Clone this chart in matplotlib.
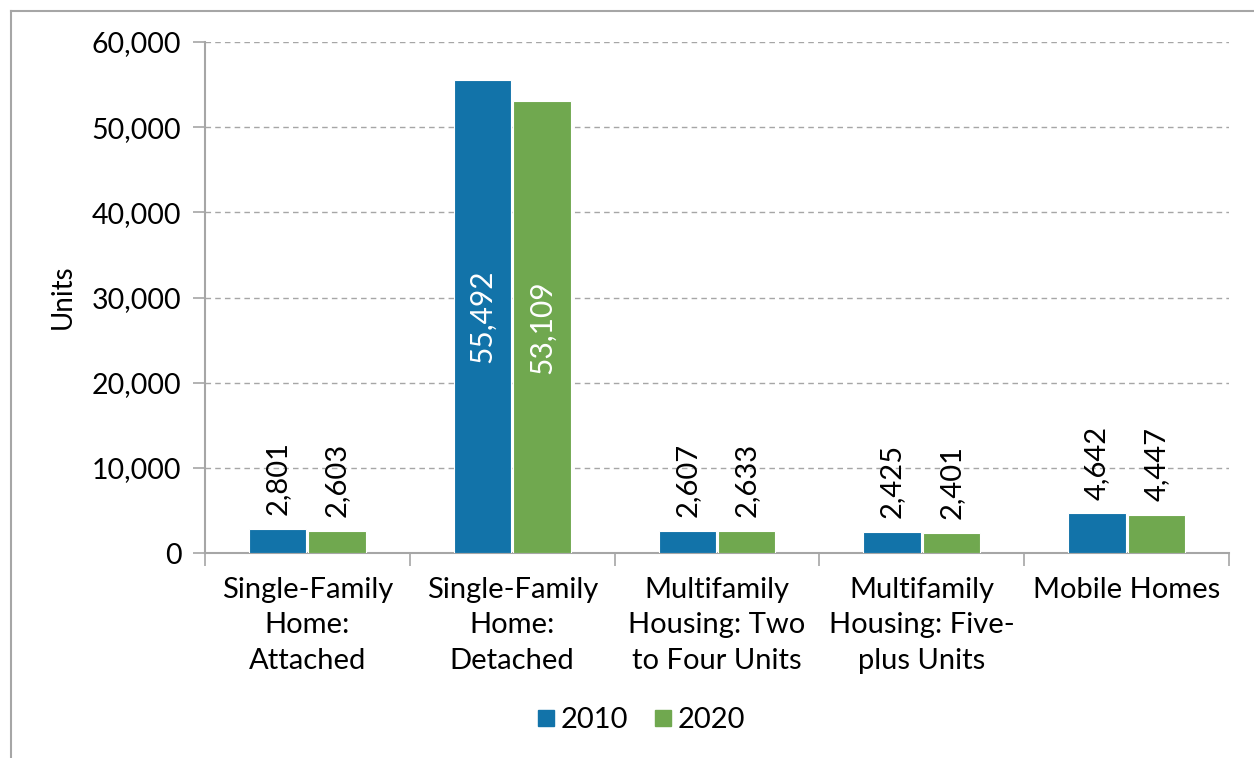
import numpy as np
import matplotlib.pyplot as plt
from matplotlib.lines import Line2D
from matplotlib.ticker import FuncFormatter, FixedLocator

# ---------------------
# Data
# ---------------------
categories = [
    "Single-Family\nHome:\nAttached",
    "Single-Family\nHome:\nDetached",
    "Multifamily\nHousing: Two\nto Four Units",
    "Multifamily\nHousing: Five-\nplus Units",
    "Mobile Homes",
]
units_2010 = [2801, 55492, 2607, 2425, 4642]
units_2020 = [2603, 53109, 2633, 2401, 4447]
series_names = ["2010", "2020"]

blue = "#1273a9"
green = "#70a84f"

plt.rcParams["font.family"] = ["Lato", "DejaVu Sans"]

fig = plt.figure(figsize=(12.54, 7.58), dpi=100)
ax = fig.add_axes([205 / 1254, 1 - 553 / 758, (1229 - 205) / 1254, (553 - 42) / 758])

x = np.arange(len(categories))
w = 0.28
gap = 0.005
b1 = ax.bar(x - w / 2 - gap, units_2010, w, color=blue, edgecolor="white", linewidth=0.8,
            label=series_names[0], zorder=3)
b2 = ax.bar(x + w / 2 + gap, units_2020, w, color=green, edgecolor="white", linewidth=0.8,
            label=series_names[1], zorder=3)

# ---------------------
# Data labels
# ---------------------
for bars, vals in [(b1, units_2010), (b2, units_2020)]:
    for rect, v in zip(bars, vals):
        cx = rect.get_x() + rect.get_width() / 2
        txt = f"{v:,}"
        if v > 20000:
            ax.text(cx, v / 2, txt, rotation=90, ha="center", va="center",
                    color="white", fontsize=21.5, zorder=4)
        else:
            ax.annotate(txt, (cx, v), xytext=(0, 10), textcoords="offset points",
                        rotation=90, ha="center", va="bottom", color="black",
                        fontsize=21, zorder=4)

# ---------------------
# Axes styling
# ---------------------
ax.set_xlim(-0.5, len(categories) - 0.5)
ax.set_ylim(0, 60000)
ax.set_yticks(np.arange(0, 60001, 10000))
ax.yaxis.set_major_formatter(FuncFormatter(lambda v, p: f"{int(v):,}"))
ax.grid(axis="y", color="#a6a6a6", linestyle=(0, (4, 3)), linewidth=1, zorder=0)

ax.set_xticks(x)
ax.set_xticklabels(categories, fontsize=21, linespacing=1.45)
ax.xaxis.set_minor_locator(FixedLocator(np.arange(-0.5, len(categories), 1.0)))
ax.tick_params(axis="x", which="major", length=0, pad=17)
ax.tick_params(axis="x", which="minor", length=9, color="#a6a6a6", width=1.2)
ax.tick_params(axis="y", length=9, color="#a6a6a6", width=1.2, labelsize=20.5, pad=8)

for s in ["top", "right"]:
    ax.spines[s].set_visible(False)
for s in ["left", "bottom"]:
    ax.spines[s].set_color("#a6a6a6")
    ax.spines[s].set_linewidth(1.5)

fig.text(63 / 1254, 1 - 297 / 758, "Units", rotation=90, ha="center", va="center",
         fontsize=20)

# legend
handles = [Line2D([], [], marker="s", linestyle="", markersize=12, color=blue),
           Line2D([], [], marker="s", linestyle="", markersize=12, color=green)]
fig.legend(handles, series_names, loc="center", bbox_to_anchor=(640 / 1254, 1 - 720 / 758),
           ncol=2, frameon=False, fontsize=21, handletextpad=0.1, columnspacing=0.8,
           handlelength=0.8)

# outer chart frame (partially cropped in the source)
fig.add_artist(Line2D([11 / 1254, 11 / 1254], [0, 1 - 11 / 758], color="#a6a6a6",
                      linewidth=1.5, transform=fig.transFigure))
fig.add_artist(Line2D([11 / 1254, 1], [1 - 11 / 758, 1 - 11 / 758], color="#a6a6a6",
                      linewidth=1.5, transform=fig.transFigure))

fig.savefig("out.png", dpi=100)
